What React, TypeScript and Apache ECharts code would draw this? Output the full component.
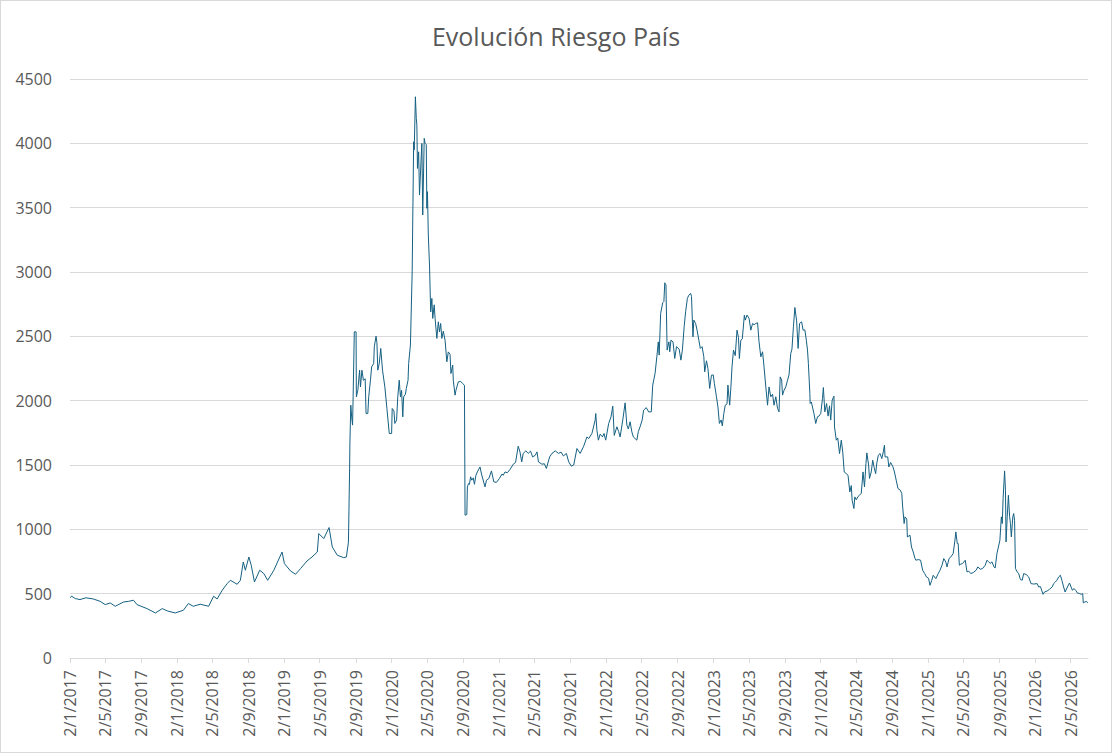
import React, { useEffect, useRef } from "react";
import * as echarts from "echarts";

const TITLE = "Evolución Riesgo País";

const tickLabels = [
  "2/1/2017", "2/5/2017", "2/9/2017", "2/1/2018", "2/5/2018", "2/9/2018",
  "2/1/2019", "2/5/2019", "2/9/2019", "2/1/2020", "2/5/2020", "2/9/2020",
  "2/1/2021", "2/5/2021", "2/9/2021", "2/1/2022", "2/5/2022", "2/9/2022",
  "2/1/2023", "2/5/2023", "2/9/2023", "2/1/2024", "2/5/2024", "2/9/2024",
  "2/1/2025", "2/5/2025", "2/9/2025", "2/1/2026", "2/5/2026",
];

const xStart = "2/1/2017";
const xEnd = "30/6/2026";

const series2017_2018: [string, number][] = [
  ["2017-01-02", 470], ["2017-01-08", 480], ["2017-01-20", 462], ["2017-02-05", 454],
  ["2017-02-25", 468], ["2017-03-22", 459], ["2017-04-14", 441], ["2017-05-02", 415],
  ["2017-05-19", 428], ["2017-06-05", 402], ["2017-07-03", 435], ["2017-07-20", 440],
  ["2017-08-06", 449], ["2017-08-18", 415], ["2017-09-21", 384], ["2017-10-20", 350],
  ["2017-11-12", 384], ["2017-11-29", 366], ["2017-12-26", 350],
  ["2018-01-23", 371], ["2018-02-09", 423], ["2018-02-26", 402], ["2018-03-21", 418],
  ["2018-04-19", 402], ["2018-05-06", 480], ["2018-05-18", 459], ["2018-06-04", 526],
  ["2018-06-21", 578], ["2018-07-02", 604], ["2018-07-25", 573], ["2018-08-05", 604],
  ["2018-08-15", 746], ["2018-08-22", 682], ["2018-09-03", 785], ["2018-09-11", 721],
  ["2018-09-22", 591], ["2018-10-10", 682], ["2018-10-24", 656], ["2018-11-06", 604],
  ["2018-11-27", 682], ["2018-12-25", 824],
];

const series2019: [string, number][] = [
  ["2019-01-02", 734], ["2019-01-23", 676], ["2019-02-09", 651], ["2019-02-26", 695],
  ["2019-03-20", 754], ["2019-04-06", 785], ["2019-04-24", 824], ["2019-04-29", 967],
  ["2019-05-16", 928], ["2019-06-03", 1014], ["2019-06-14", 863], ["2019-07-01", 799],
  ["2019-07-23", 780], ["2019-08-01", 785], ["2019-08-08", 900], ["2019-08-12", 1470],
  ["2019-08-13", 1670], ["2019-08-16", 1965], ["2019-08-19", 1874], ["2019-08-22", 1810],
  ["2019-08-24", 2030], ["2019-08-28", 2535], ["2019-09-03", 2535], ["2019-09-04", 2030],
  ["2019-09-09", 2080], ["2019-09-15", 2237], ["2019-09-18", 2107], ["2019-09-23", 2237],
  ["2019-09-28", 2159], ["2019-10-04", 2170], ["2019-10-07", 1900], ["2019-10-13", 1900],
  ["2019-10-16", 2030], ["2019-10-22", 2159], ["2019-10-26", 2263], ["2019-11-02", 2289],
  ["2019-11-04", 2418], ["2019-11-10", 2501], ["2019-11-13", 2450], ["2019-11-16", 2237],
  ["2019-11-21", 2290], ["2019-11-26", 2406], ["2019-12-02", 2237], ["2019-12-10", 2107],
  ["2019-12-17", 1939], ["2019-12-25", 1745],
];

const series2020: [string, number][] = [
  ["2020-01-02", 1745], ["2020-01-04", 1939], ["2020-01-10", 1920], ["2020-01-13", 1823],
  ["2020-01-19", 1850], ["2020-01-23", 2030], ["2020-01-28", 2159], ["2020-02-01", 2030],
  ["2020-02-05", 2080], ["2020-02-09", 1874], ["2020-02-12", 2030], ["2020-02-18", 2050],
  ["2020-02-21", 2095], ["2020-02-27", 2159], ["2020-02-29", 2289], ["2020-03-06", 2432],
  ["2020-03-12", 3001], ["2020-03-17", 4012], ["2020-03-19", 3950], ["2020-03-23", 4362],
  ["2020-03-26", 4194], ["2020-03-28", 4142], ["2020-03-30", 3805], ["2020-04-03", 3934],
  ["2020-04-06", 3598], ["2020-04-11", 3857], ["2020-04-14", 4000], ["2020-04-17", 3443],
  ["2020-04-22", 4039], ["2020-04-25", 4000], ["2020-04-29", 3990], ["2020-05-01", 3495],
  ["2020-05-03", 3624], ["2020-05-06", 3287], ["2020-05-10", 3054], ["2020-05-14", 2690],
  ["2020-05-18", 2795], ["2020-05-21", 2639], ["2020-05-26", 2745], ["2020-05-29", 2640],
  ["2020-06-04", 2484], ["2020-06-09", 2613], ["2020-06-13", 2535], ["2020-06-17", 2600],
  ["2020-06-21", 2484], ["2020-06-26", 2540], ["2020-07-02", 2470], ["2020-07-08", 2302],
  ["2020-07-13", 2379], ["2020-07-19", 2360], ["2020-07-22", 2211], ["2020-07-28", 2276],
  ["2020-07-30", 2159], ["2020-08-05", 2043], ["2020-08-08", 2080], ["2020-08-16", 2146],
  ["2020-08-24", 2150], ["2020-08-31", 2133], ["2020-09-06", 2120], ["2020-09-08", 1110],
  ["2020-09-14", 1115], ["2020-09-16", 1330], ["2020-09-20", 1356], ["2020-09-23", 1350],
  ["2020-09-27", 1408], ["2020-10-01", 1382], ["2020-10-06", 1400], ["2020-10-10", 1350],
  ["2020-10-15", 1420], ["2020-10-20", 1446], ["2020-10-29", 1485], ["2020-11-03", 1430],
  ["2020-11-15", 1330], ["2020-11-20", 1382], ["2020-11-28", 1395], ["2020-12-07", 1454],
  ["2020-12-15", 1369], ["2020-12-24", 1365],
];

const series2021_2022: [string, number][] = [
  ["2021-01-03", 1395], ["2021-01-12", 1430], ["2021-01-16", 1420], ["2021-01-22", 1446],
  ["2021-01-30", 1440], ["2021-02-08", 1465], ["2021-02-19", 1506], ["2021-02-27", 1520],
  ["2021-03-08", 1646], ["2021-03-14", 1602], ["2021-03-20", 1524], ["2021-03-25", 1590],
  ["2021-04-03", 1610], ["2021-04-11", 1590], ["2021-04-19", 1608], ["2021-04-26", 1563],
  ["2021-05-05", 1575], ["2021-05-11", 1602], ["2021-05-16", 1524], ["2021-05-28", 1506],
  ["2021-06-05", 1510], ["2021-06-12", 1473], ["2021-06-23", 1563], ["2021-07-01", 1590],
  ["2021-07-12", 1610], ["2021-07-23", 1590], ["2021-08-01", 1600], ["2021-08-09", 1570],
  ["2021-08-19", 1590], ["2021-08-27", 1524], ["2021-09-05", 1491], ["2021-09-13", 1500],
  ["2021-09-24", 1628], ["2021-10-05", 1590], ["2021-10-17", 1646], ["2021-10-28", 1718],
  ["2021-11-03", 1705], ["2021-11-14", 1745], ["2021-11-25", 1849], ["2021-11-27", 1900],
  ["2021-12-01", 1770], ["2021-12-06", 1693], ["2021-12-12", 1740], ["2021-12-20", 1718],
  ["2021-12-25", 1745], ["2021-12-31", 1693],
  ["2022-01-10", 1823], ["2022-01-18", 1874], ["2022-01-24", 1957], ["2022-01-29", 1730],
  ["2022-02-07", 1797], ["2022-02-13", 1760], ["2022-02-18", 1718], ["2022-02-27", 1849],
  ["2022-03-07", 1983], ["2022-03-13", 1810], ["2022-03-18", 1780], ["2022-03-24", 1836],
  ["2022-03-30", 1757], ["2022-04-04", 1718], ["2022-04-16", 1693], ["2022-04-21", 1760],
  ["2022-04-27", 1797], ["2022-05-04", 1849], ["2022-05-09", 1926], ["2022-05-18", 1946],
  ["2022-05-26", 1913], ["2022-06-04", 1913], ["2022-06-09", 2121], ["2022-06-17", 2211],
  ["2022-06-23", 2341], ["2022-06-28", 2457], ["2022-07-01", 2354], ["2022-07-06", 2678],
  ["2022-07-13", 2761], ["2022-07-17", 2770], ["2022-07-20", 2916], ["2022-07-24", 2900],
  ["2022-07-28", 2393], ["2022-08-03", 2457], ["2022-08-06", 2380], ["2022-08-10", 2470],
  ["2022-08-17", 2457], ["2022-08-23", 2328], ["2022-08-29", 2420], ["2022-09-07", 2400],
  ["2022-09-13", 2315], ["2022-09-18", 2393], ["2022-09-24", 2574], ["2022-09-29", 2690],
  ["2022-10-05", 2795], ["2022-10-10", 2820], ["2022-10-16", 2834], ["2022-10-19", 2810],
  ["2022-10-24", 2496], ["2022-10-27", 2626], ["2022-11-02", 2600], ["2022-11-07", 2548],
  ["2022-11-13", 2470], ["2022-11-18", 2406], ["2022-11-24", 2420], ["2022-11-30", 2341],
  ["2022-12-03", 2224], ["2022-12-09", 2310], ["2022-12-14", 2250], ["2022-12-20", 2095],
  ["2022-12-26", 2198],
];

const series2023_2024: [string, number][] = [
  ["2023-01-01", 2200], ["2023-01-05", 2133], ["2023-01-12", 2030], ["2023-01-17", 1952],
  ["2023-01-22", 1823], ["2023-01-28", 1850], ["2023-02-01", 1804], ["2023-02-06", 1900],
  ["2023-02-11", 1965], ["2023-02-17", 1975], ["2023-02-20", 2121], ["2023-02-26", 1965],
  ["2023-03-02", 2100], ["2023-03-06", 2263], ["2023-03-11", 2393], ["2023-03-17", 2350],
  ["2023-03-23", 2548], ["2023-03-28", 2490], ["2023-03-31", 2328], ["2023-04-05", 2470],
  ["2023-04-10", 2480], ["2023-04-17", 2665], ["2023-04-20", 2626], ["2023-04-26", 2665],
  ["2023-05-03", 2640], ["2023-05-09", 2548], ["2023-05-15", 2600], ["2023-05-20", 2590],
  ["2023-05-26", 2600], ["2023-06-01", 2605], ["2023-06-06", 2457], ["2023-06-12", 2341],
  ["2023-06-18", 2380], ["2023-06-23", 2263], ["2023-06-29", 2107], ["2023-07-05", 1965],
  ["2023-07-10", 2107], ["2023-07-16", 2030], ["2023-07-22", 2050], ["2023-07-27", 1965],
  ["2023-08-02", 2030], ["2023-08-08", 1939], ["2023-08-13", 1913], ["2023-08-17", 2185],
  ["2023-08-22", 2160], ["2023-08-25", 2043], ["2023-08-30", 2080], ["2023-09-05", 2107],
  ["2023-09-11", 2159], ["2023-09-16", 2200], ["2023-09-22", 2367], ["2023-09-26", 2400],
  ["2023-10-01", 2574], ["2023-10-06", 2724], ["2023-10-12", 2620], ["2023-10-17", 2406],
  ["2023-10-22", 2600], ["2023-10-29", 2613], ["2023-11-03", 2548], ["2023-11-09", 2550],
  ["2023-11-14", 2470], ["2023-11-18", 2393], ["2023-11-21", 2289], ["2023-11-26", 2056],
  ["2023-11-27", 1978], ["2023-12-01", 1990], ["2023-12-10", 1900], ["2023-12-16", 1823],
  ["2023-12-22", 1875], ["2023-12-27", 1880],
  ["2024-01-02", 1900], ["2024-01-08", 2017], ["2024-01-11", 2102], ["2024-01-16", 1913],
  ["2024-01-22", 1978], ["2024-01-27", 1880], ["2024-02-01", 1960], ["2024-02-05", 1849],
  ["2024-02-10", 2004], ["2024-02-16", 2035], ["2024-02-18", 1796], ["2024-02-24", 1693],
  ["2024-02-29", 1710], ["2024-03-06", 1589], ["2024-03-12", 1693], ["2024-03-17", 1600],
  ["2024-03-22", 1446], ["2024-03-29", 1433], ["2024-04-04", 1420], ["2024-04-10", 1291],
  ["2024-04-15", 1340], ["2024-04-18", 1226], ["2024-04-24", 1162], ["2024-04-27", 1252],
  ["2024-05-02", 1230], ["2024-05-08", 1255], ["2024-05-13", 1265], ["2024-05-19", 1280],
  ["2024-05-25", 1446], ["2024-05-30", 1330], ["2024-06-04", 1511], ["2024-06-07", 1594],
  ["2024-06-13", 1500], ["2024-06-16", 1395], ["2024-06-22", 1446], ["2024-06-27", 1537],
  ["2024-07-02", 1480], ["2024-07-07", 1433], ["2024-07-11", 1515], ["2024-07-16", 1576],
  ["2024-07-22", 1589], ["2024-07-28", 1550], ["2024-08-02", 1602], ["2024-08-06", 1654],
  ["2024-08-08", 1563], ["2024-08-17", 1563], ["2024-08-21", 1485], ["2024-08-27", 1520],
  ["2024-09-04", 1485], ["2024-09-09", 1446], ["2024-09-15", 1382], ["2024-09-21", 1317],
  ["2024-09-29", 1304], ["2024-10-04", 1278], ["2024-10-07", 1174], ["2024-10-12", 1045],
  ["2024-10-15", 1097], ["2024-10-21", 1080], ["2024-10-23", 941], ["2024-11-01", 954],
  ["2024-11-06", 863], ["2024-11-12", 824], ["2024-11-18", 773], ["2024-11-21", 760],
  ["2024-11-29", 765], ["2024-12-07", 760], ["2024-12-14", 682], ["2024-12-21", 656],
  ["2024-12-27", 630],
];

const series2025_2026: [string, number][] = [
  ["2025-01-03", 620], ["2025-01-08", 565], ["2025-01-14", 604], ["2025-01-19", 643],
  ["2025-01-28", 617], ["2025-02-05", 656], ["2025-02-11", 682], ["2025-02-18", 721],
  ["2025-02-24", 773], ["2025-03-03", 745], ["2025-03-07", 708], ["2025-03-14", 773],
  ["2025-03-20", 786], ["2025-03-28", 812], ["2025-04-03", 915], ["2025-04-06", 980],
  ["2025-04-11", 889], ["2025-04-14", 890], ["2025-04-18", 721], ["2025-04-23", 730],
  ["2025-04-29", 734], ["2025-05-08", 760], ["2025-05-14", 669], ["2025-05-20", 675],
  ["2025-05-27", 656], ["2025-06-05", 665], ["2025-06-14", 682], ["2025-06-20", 708],
  ["2025-06-28", 690], ["2025-07-06", 695], ["2025-07-15", 721], ["2025-07-21", 760],
  ["2025-07-26", 750], ["2025-08-01", 735], ["2025-08-07", 747], ["2025-08-14", 708],
  ["2025-08-18", 700], ["2025-08-24", 812], ["2025-08-29", 863], ["2025-09-03", 915],
  ["2025-09-08", 1097], ["2025-09-11", 1045], ["2025-09-14", 1240], ["2025-09-19", 1454],
  ["2025-09-22", 1304], ["2025-09-24", 902], ["2025-09-28", 1097], ["2025-10-02", 1265],
  ["2025-10-06", 1100], ["2025-10-09", 1045], ["2025-10-12", 941], ["2025-10-17", 1097],
  ["2025-10-20", 1123], ["2025-10-23", 1070], ["2025-10-26", 695], ["2025-11-01", 669],
  ["2025-11-06", 656], ["2025-11-12", 609], ["2025-11-18", 605], ["2025-11-23", 656],
  ["2025-12-01", 650], ["2025-12-10", 630], ["2025-12-18", 578], ["2025-12-27", 575],
  ["2026-01-08", 578], ["2026-01-13", 552], ["2026-01-19", 555], ["2026-01-28", 495],
  ["2026-02-02", 513], ["2026-02-11", 521], ["2026-02-19", 534], ["2026-02-28", 552],
  ["2026-03-05", 578], ["2026-03-11", 591], ["2026-03-16", 604], ["2026-03-22", 630],
  ["2026-03-28", 643], ["2026-04-02", 604], ["2026-04-08", 552], ["2026-04-13", 513],
  ["2026-04-21", 552], ["2026-04-28", 583], ["2026-05-08", 526], ["2026-05-13", 540],
  ["2026-05-19", 526], ["2026-05-25", 505], ["2026-06-02", 500], ["2026-06-08", 495],
  ["2026-06-12", 500], ["2026-06-14", 428], ["2026-06-19", 435], ["2026-06-25", 440],
  ["2026-06-29", 428],
];

const yTicks = { min: 0, max: 4500, interval: 500 };

const FONT = "'Open Sans', 'Liberation Sans', sans-serif";
const TEXT = "#595959";
const GRID = "#d9d9d9";
const LINE = "#156082";

function parseDMY(s: string): number {
  const [d, m, y] = s.split("/").map(Number);
  return new Date(y, m - 1, d).getTime();
}
function parseISO(s: string): number {
  const [y, m, d] = s.split("-").map(Number);
  return new Date(y, m - 1, d).getTime();
}

export default function App() {
  const ref = useRef<HTMLDivElement>(null);

  useEffect(() => {
    document.body.style.margin = "0";
    if (!ref.current) return;
    const chart = echarts.init(ref.current, undefined, { renderer: "svg" });
    const tickValues = tickLabels.map(parseDMY);
    const labelFor = new Map<number, string>();
    tickValues.forEach((v, i) => labelFor.set(v, tickLabels[i]));
    const all = [
      ...series2017_2018,
      ...series2019,
      ...series2020,
      ...series2021_2022,
      ...series2023_2024,
      ...series2025_2026,
    ].map(([d, v]) => [parseISO(d), v]);
    chart.setOption({
      animation: false,
      title: {
        text: TITLE,
        left: "center",
        top: 18,
        textStyle: { fontFamily: FONT, fontSize: 25, fontWeight: "normal", color: TEXT },
      },
      grid: { left: 70, right: 24, top: 79, bottom: 95, containLabel: false },
      xAxis: {
        type: "value",
        min: parseDMY(xStart),
        max: parseDMY(xEnd),
        axisLine: { show: true, onZero: false, lineStyle: { color: GRID, width: 1 } },
        axisTick: {
          show: true,
          customValues: tickValues,
          length: 5,
          lineStyle: { color: GRID },
        },
        axisLabel: {
          customValues: tickValues,
          rotate: 90,
          margin: 12,
          color: TEXT,
          fontSize: 16,
          fontFamily: FONT,
          formatter: (v: number) => labelFor.get(v) ?? "",
        },
        splitLine: { show: false },
      },
      yAxis: {
        type: "value",
        min: yTicks.min,
        max: yTicks.max,
        interval: yTicks.interval,
        axisLine: { show: false },
        axisTick: { show: false },
        axisLabel: {
          color: TEXT,
          fontSize: 16,
          fontFamily: FONT,
          margin: 18,
          formatter: (v: number) => String(v),
        },
        splitLine: { lineStyle: { color: GRID, width: 1 } },
      },
      series: [
        {
          type: "line",
          data: all,
          showSymbol: false,
          symbol: "none",
          lineStyle: { color: LINE, width: 1 },
          itemStyle: { color: LINE },
        },
      ],
    });
    return () => chart.dispose();
  }, []);

  return (
    <div style={{ position: "relative", width: 1112, height: 753, background: "#fff" }}>
      <div ref={ref} style={{ width: 1112, height: 753 }} />
      <div
        style={{
          position: "absolute",
          inset: 0,
          border: "1px solid #d9d9d9",
          pointerEvents: "none",
        }}
      />
    </div>
  );
}
